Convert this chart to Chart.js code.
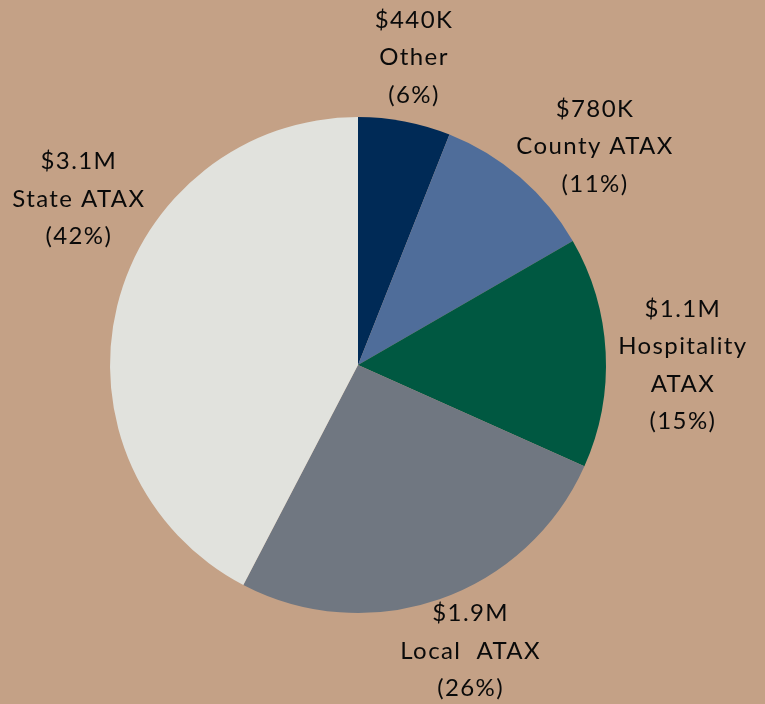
<!DOCTYPE html>
<html>
<head>
<meta charset="utf-8">
<script src="https://cdn.jsdelivr.net/npm/chart.js@4.4.1/dist/chart.umd.min.js"></script>
<style>
  html, body { margin: 0; padding: 0; background: #c4a186; }
  #wrap { width: 765px; height: 704px; }
</style>
</head>
<body>
<div id="wrap"><canvas id="chartCanvas"></canvas></div>
<script>
// data
const categories = ["Other", "County ATAX", "Hospitality ATAX", "Local  ATAX", "State ATAX"];
const amounts = [440, 780, 1100, 1900, 3100]; // in $K
const amountLabels = ["$440K", "$780K", "$1.1M", "$1.9M", "$3.1M"];
const percentLabels = ["(6%)", "(11%)", "(15%)", "(26%)", "(42%)"];
const labelLines = [["Other"], ["County ATAX"], ["Hospitality", "ATAX"], ["Local  ATAX"], ["State ATAX"]];
const sliceColors = ["#002a56", "#4f6d9a", "#005841", "#707781", "#e1e2dd"];

// nudges for where the label block sits (angle shift in degrees, radius factor)
const labelAngleShift = [-0.5, 6.5, 3, -2.3, 17];
const labelRadius = [1.26, 1.3, 1.31, 1.24, 1.31];

const outsideLabels = {
  id: "outsideLabels",
  afterDatasetsDraw(chart) {
    const ctx = chart.ctx;
    const meta = chart.getDatasetMeta(0);
    ctx.save();
    ctx.font = "24px Lato";
    ctx.letterSpacing = "1.4px";
    ctx.fillStyle = "#0a0a0a";
    ctx.textAlign = "center";
    ctx.textBaseline = "middle";
    const lineH = 37.5;
    meta.data.forEach((arc, i) => {
      const mid = (arc.startAngle + arc.endAngle) / 2 + labelAngleShift[i] * Math.PI / 180;
      const r = arc.outerRadius * labelRadius[i];
      const cx = arc.x + Math.cos(mid) * r;
      const cy = arc.y + Math.sin(mid) * r;
      const lines = [amountLabels[i], ...labelLines[i], percentLabels[i]];
      const top = cy - (lines.length - 1) * lineH / 2;
      lines.forEach((t, j) => ctx.fillText(t, cx, top + j * lineH));
    });
    ctx.restore();
  }
};

new Chart(document.getElementById("chartCanvas"), {
  type: "pie",
  data: {
    labels: categories,
    datasets: [{
      data: amounts,
      backgroundColor: sliceColors,
      borderWidth: 0
    }]
  },
  options: {
    responsive: true,
    maintainAspectRatio: false,
    animation: false,
    layout: { padding: { left: 110, right: 159, top: 117, bottom: 91 } },
    plugins: {
      legend: { display: false },
      tooltip: { enabled: false }
    }
  },
  plugins: [outsideLabels]
});
</script>
</body>
</html>
